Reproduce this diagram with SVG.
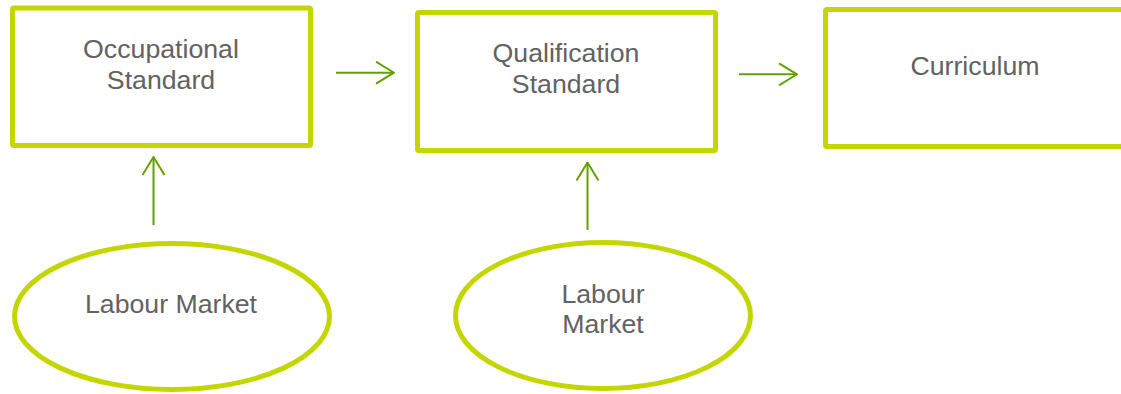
<svg xmlns="http://www.w3.org/2000/svg" width="1121" height="394" viewBox="0 0 1121 394">
<style>
.box{fill:#ffffff;stroke:#c4d600;stroke-width:5;}
.oval{fill:#ffffff;stroke:#c4d600;stroke-width:5;}
.lbl{font-family:"Liberation Sans",Arial,sans-serif;font-size:26.7px;fill:#626262;text-anchor:middle;}
.conn{fill:none;stroke:#64a000;stroke-width:2;}
</style>
<defs>
<marker id="arr" viewBox="0 0 20 24" refX="19" refY="12" markerWidth="20" markerHeight="24" markerUnits="userSpaceOnUse" orient="auto">
<path d="M1,1 L19,12 L1,23" fill="none" stroke="#64a000" stroke-width="2"/>
</marker>
</defs>
<rect width="1121" height="394" fill="#ffffff"/>
<g id="occupational-standard">
<rect class="box" x="12.5" y="8" width="298" height="137.5" rx="1.5"/>
<text class="lbl" x="161" y="58">Occupational</text>
<text class="lbl" x="161" y="89">Standard</text>
</g>
<g id="qualification-standard">
<rect class="box" x="417.5" y="12.5" width="298" height="138" rx="1.5"/>
<text class="lbl" x="566" y="62">Qualification</text>
<text class="lbl" x="566" y="93">Standard</text>
</g>
<g id="curriculum">
<rect class="box" x="825.5" y="9.5" width="310" height="137" rx="1.5"/>
<text class="lbl" x="975" y="75">Curriculum</text>
</g>
<g id="labour-market-1">
<ellipse class="oval" cx="172" cy="316.5" rx="157.5" ry="73"/>
<text class="lbl" x="171" y="313">Labour Market</text>
</g>
<g id="labour-market-2">
<ellipse class="oval" cx="603" cy="315.5" rx="147.5" ry="73"/>
<text class="lbl" x="603" y="302.5">Labour</text>
<text class="lbl" x="603" y="332.5">Market</text>
</g>
<g id="connectors">
<line class="conn" x1="336" y1="72.7" x2="394" y2="72.7" marker-end="url(#arr)"/>
<line class="conn" x1="739" y1="74.3" x2="797" y2="74.3" marker-end="url(#arr)"/>
<line class="conn" x1="153.5" y1="225" x2="153.5" y2="157" marker-end="url(#arr)"/>
<line class="conn" x1="587.5" y1="230" x2="587.5" y2="162.5" marker-end="url(#arr)"/>
</g>
</svg>
